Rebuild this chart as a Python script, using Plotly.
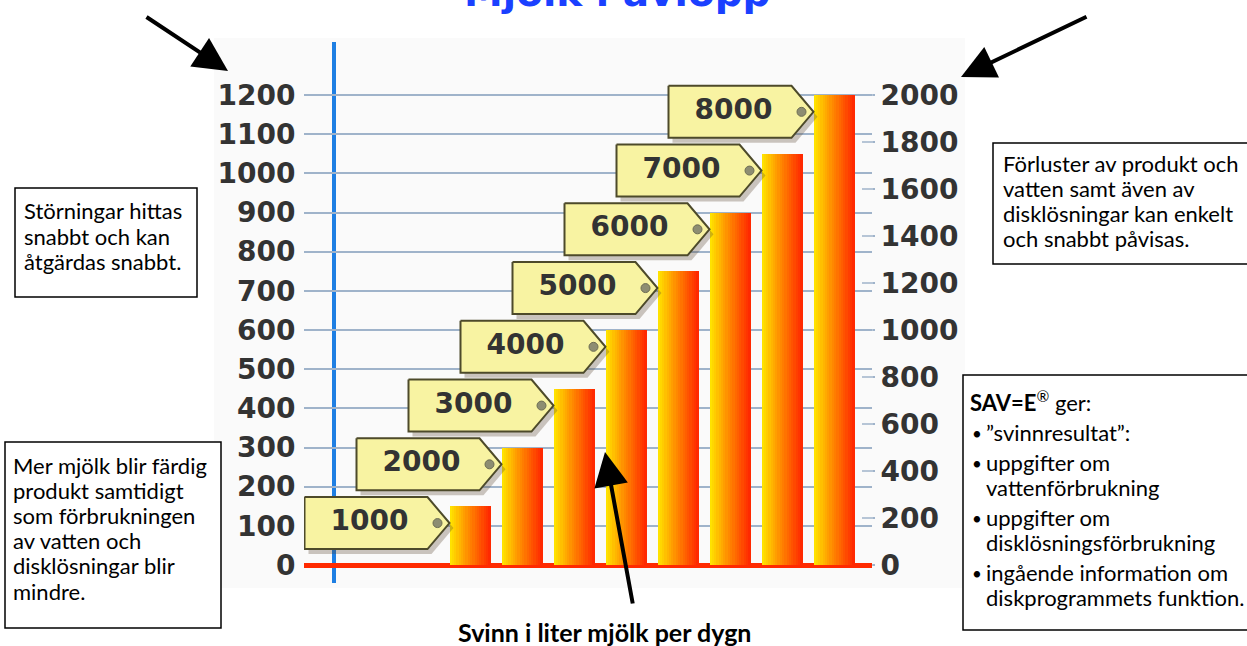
import plotly.graph_objects as go

# ---------------- data ----------------
tag_labels = ["1000", "2000", "3000", "4000", "5000", "6000", "7000", "8000"]
loss_left = [150, 300, 450, 600, 750, 900, 1050, 1200]      # left-axis units
left_ticks = list(range(0, 1201, 100))
right_ticks = list(range(0, 2001, 200))
title_text = "Mjölk i avlopp"
x_label = "Svinn i liter mjölk per dygn"

box1_lines = ["Störningar hittas", "snabbt och kan", "åtgärdas snabbt."]
box2_lines = ["Mer mjölk blir färdig", "produkt samtidigt", "som förbrukningen",
              "av vatten och", "disklösningar blir", "mindre."]
box3_lines = ["Förluster av produkt och", "vatten samt även av",
              "disklösningar kan enkelt", "och snabbt påvisas."]
box4_head = "<b>SAV=E</b><sup>®</sup> ger:"
box4_items = [["”svinnresultat”:"],
              ["uppgifter om", "vattenförbrukning"],
              ["uppgifter om", "disklösningsförbrukning"],
              ["ingående information om", "diskprogrammets funktion."]]

# ---------------- geometry ----------------
W, H = 1247, 646
L, R, T, B = 304, 872, 42, 583
PX0, PXS = 470, 52            # pixel of category 0, pixels per category
PY0, PYS = 565, 470 / 1200    # pixel of value 0, pixels per unit
xr = [(L - PX0) / PXS, (R - PX0) / PXS]
yr = [(PY0 - B) / PYS, (PY0 - T) / PYS]
ratio = 2000 / 1200
y2r = [yr[0] * ratio, yr[1] * ratio]


def px(p):
    return (p - L) / (R - L)


def py(p):
    return (B - p) / (B - T)


idx = list(range(len(loss_left)))
bar_w = 41 / PXS

fig = go.Figure()

# gradient bars (vertical strips)
N = 18
stops = [(0.0, (255, 232, 0)), (0.45, (255, 140, 0)), (1.0, (255, 36, 0))]


def grad(t):
    for (t0, c0), (t1, c1) in zip(stops[:-1], stops[1:]):
        if t <= t1:
            f = (t - t0) / (t1 - t0)
            return "rgb(%d,%d,%d)" % tuple(round(a + (b - a) * f) for a, b in zip(c0, c1))
    return "rgb(%d,%d,%d)" % stops[-1][1]


for k in range(N):
    sw = bar_w / N
    w = sw * (1.25 if k < N - 1 else 1.0)
    fig.add_trace(go.Bar(
        x=idx, y=loss_left, width=[w] * len(idx), offset=[-bar_w / 2 + k * sw] * len(idx),
        marker=dict(color=grad((k + 0.5) / N), line=dict(width=0)),
        hoverinfo="skip", showlegend=False))

# tags
tagW, tagD, tagH = 145 / PXS, 22 / PXS, 26 / PYS
tag_drop = 43
for i, v in enumerate(loss_left):
    tx = i - bar_w / 2
    cy = v - tag_drop
    xs = [tx - tagW, tx - tagD, tx, tx - tagD, tx - tagW, tx - tagW]
    ys = [cy + tagH, cy + tagH, cy, cy - tagH, cy - tagH, cy + tagH]
    fig.add_trace(go.Scatter(
        x=[a + 4 / PXS for a in xs], y=[b - 5 / PYS for b in ys], mode="lines",
        fill="toself", fillcolor="rgba(90,70,50,0.30)", line=dict(width=0),
        hoverinfo="skip", showlegend=False))
    fig.add_trace(go.Scatter(
        x=xs, y=ys, mode="lines", fill="toself", fillcolor="#f8f3a2",
        line=dict(color="#4d4a2a", width=2), hoverinfo="skip", showlegend=False))

tips = [i - bar_w / 2 for i in idx]
cys = [v - tag_drop for v in loss_left]
fig.add_trace(go.Scatter(
    x=[t - 12 / PXS for t in tips], y=cys, mode="markers",
    marker=dict(size=9, color="#8d8d72", line=dict(color="#6c6c52", width=1)),
    hoverinfo="skip", showlegend=False))
fig.add_trace(go.Scatter(
    x=[t - 80 / PXS for t in tips], y=cys, mode="text", text=tag_labels,
    textfont=dict(family="DejaVu Sans", size=28, weight="bold", color="#333333"),
    hoverinfo="skip", showlegend=False))

# right axis carrier
fig.add_trace(go.Scatter(x=[None], y=[None], yaxis="y2", showlegend=False, hoverinfo="skip"))

tickfont = dict(family="DejaVu Sans", size=28, weight="bold", color="#333333")
fig.update_layout(
    width=W, height=H, margin=dict(l=L, r=W - R, t=T, b=H - B),
    paper_bgcolor="white", plot_bgcolor="rgba(0,0,0,0)",
    barmode="overlay", bargap=0, showlegend=False,
    xaxis=dict(range=xr, showgrid=False, zeroline=False, showticklabels=False,
               ticks="", showline=False, fixedrange=True),
    yaxis=dict(range=yr, tickvals=left_ticks, ticktext=[str(t) for t in left_ticks],
               tickfont=tickfont, showgrid=True, gridcolor="#9fb3ca", gridwidth=1.5,
               zeroline=True, zerolinecolor="#ff2a00", zerolinewidth=5,
               ticks="outside", ticklen=2, tickcolor="rgba(0,0,0,0)",
               showline=False, fixedrange=True),
    yaxis2=dict(range=y2r, overlaying="y", side="right", tickvals=right_ticks,
                ticktext=[str(t) for t in right_ticks], tickfont=tickfont,
                showgrid=False, zeroline=False, ticks="outside", ticklen=2,
                tickcolor="#9fb3ca", tickwidth=1.5, showline=False, fixedrange=True),
)

shapes = []
# faint panel
shapes.append(dict(type="rect", xref="paper", yref="paper", x0=px(214), x1=px(965),
                   y0=py(588), y1=py(38), fillcolor="#fafafa", line=dict(width=0), layer="below"))
# blue vertical axis line
shapes.append(dict(type="line", xref="paper", yref="paper", x0=px(334), x1=px(334),
                   y0=py(583), y1=py(42), line=dict(color="#1e7fe3", width=4), layer="between"))
# short right-axis ticks reaching into the plot
for v in right_ticks:
    shapes.append(dict(type="line", xref="paper", yref="y2", x0=px(862), x1=px(874),
                       y0=v, y1=v, line=dict(color="#9fb3ca", width=1.5), layer="between"))


def rect(x0, y0, x1, y1):
    shapes.append(dict(type="rect", xref="paper", yref="paper", x0=px(x0), x1=px(x1),
                       y0=py(y1), y1=py(y0), fillcolor="white",
                       line=dict(color="black", width=1.5), layer="above"))


rect(15, 188, 197, 297)
rect(5, 442, 221, 628)
rect(993, 143, 1260, 264)
rect(963, 375, 1260, 630)
fig.update_layout(shapes=shapes)

ann = []
bf = dict(family="Lato", size=22, color="black")
bullet_font = dict(family="Lato", size=17, color="black")


def line(text, x, y, font=bf, xanchor="left"):
    ann.append(dict(text=text, x=px(x), y=py(y), xref="paper", yref="paper",
                    xanchor=xanchor, yanchor="middle", showarrow=False, font=font))


for k, t in enumerate(box1_lines):
    line(t, 22, 211 + 25 * k)
for k, t in enumerate(box2_lines):
    line(t, 11, 465 + 25.2 * k)
for k, t in enumerate(box3_lines):
    line(t, 1001, 163 + 25 * k)
line(box4_head, 968, 401)
y = 432
for item in box4_items:
    line("•", 970, y + 1, font=bullet_font)
    for j, t in enumerate(item):
        line(t, 984, y + 25 * j)
    y += 25 * (len(item) - 1) + 30

# title (cut at top like the reference)
ann.append(dict(text="<b>" + title_text + "</b>", x=px(617), y=py(17), xref="paper",
                yref="paper", xanchor="center", yanchor="bottom", showarrow=False,
                font=dict(family="DejaVu Sans", size=39, color="#1a40ff")))
# bottom label
ann.append(dict(text="<b>" + x_label + "</b>", x=px(604), y=py(632), xref="paper",
                yref="paper", xanchor="center", yanchor="middle", showarrow=False,
                font=dict(family="Lato", size=25, color="black")))


def arrow(tx, ty, sx, sy):
    ann.append(dict(text="", x=px(tx), y=py(ty), xref="paper", yref="paper",
                    ax=sx - tx, ay=sy - ty, showarrow=True, arrowhead=2,
                    arrowsize=1.7, arrowwidth=4, arrowcolor="black", standoff=0))


arrow(228, 71, 145, 16)
arrow(961, 77, 1088, 16)
arrow(605, 452, 633, 605)
fig.update_layout(annotations=ann)

fig.write_html("out.html", config={"displayModeBar": False},
               post_script="document.body.style.margin='0';")
